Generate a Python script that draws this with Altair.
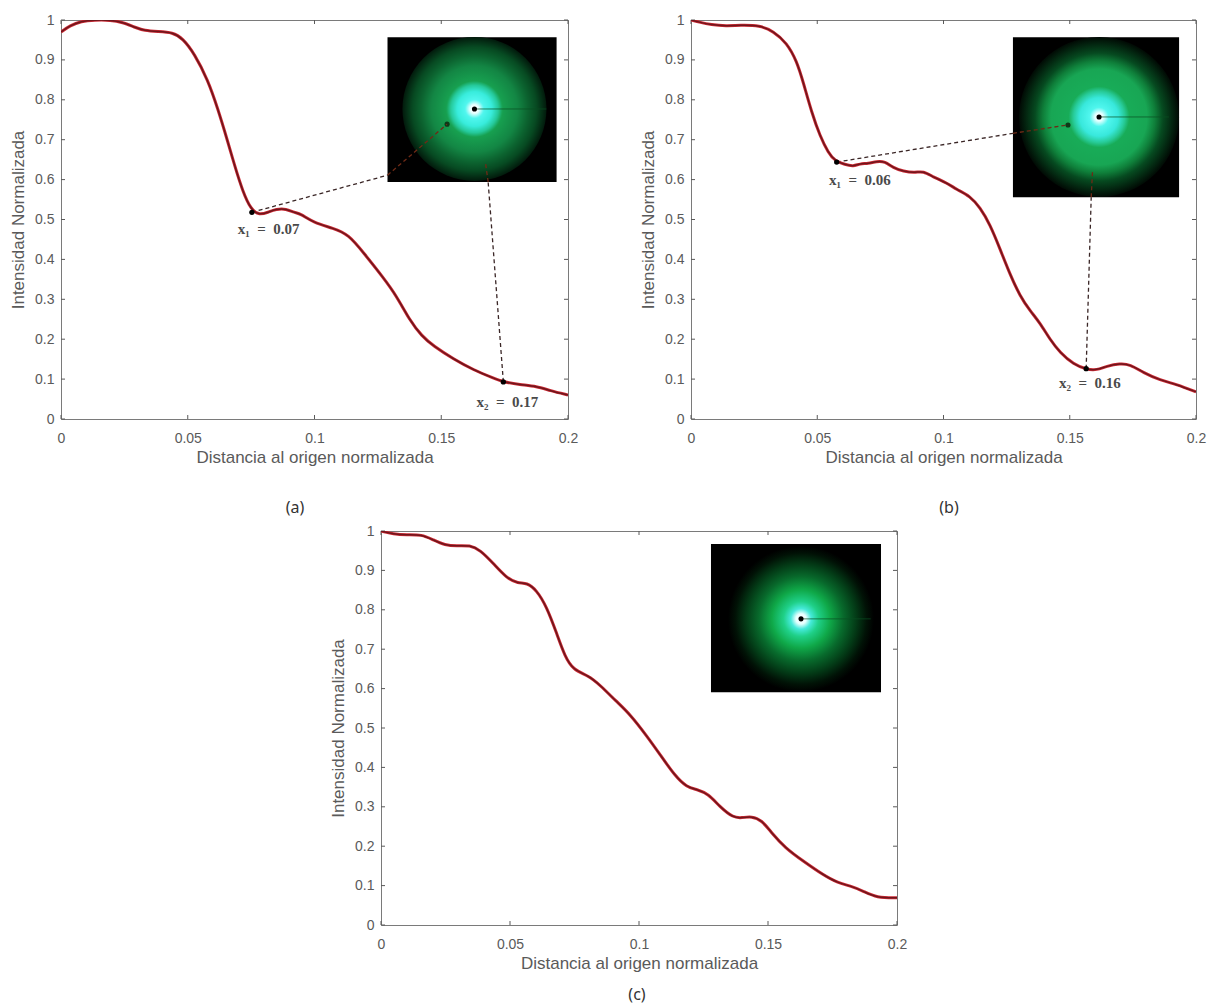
import altair as alt
import pandas as pd

# Curve values
xa = [0,.0036,.0079,.0132,.0197,.0243,.029,.033,.0382,.0441,.048,.0526,.0579,.0618,.0658,.0684,.0717,.075,.0783,.0816,.0849,.0888,.0921,.0944,.0996,.1075,.1134,.1193,.1272,.1324,.1377,.1423,.1469,.1549,.1627,.1706,.1745,.181,.1877,.1929,.2]
ya = [.97,.986,.997,1.0,1.0,.994,.982,.973,.971,.969,.954,.916,.85,.779,.695,.637,.57,.524,.511,.518,.526,.527,.517,.515,.492,.478,.4625,.417,.354,.308,.246,.208,.183,.15,.123,.1025,.093,.086,.082,.071,.06]
xb = [0,.003,.008,.014,.0194,.0273,.0326,.0379,.0419,.0445,.0478,.0511,.0544,.057,.061,.0643,.0669,.0702,.0735,.0768,.0801,.0841,.0887,.092,.096,.1013,.1052,.1105,.1145,.1184,.1224,.1263,.1303,.1343,.1382,.1422,.1462,.1515,.1567,.1607,.1646,.1699,.1739,.1792,.1858,.1923,.2]
yb = [1.0,.995,.988,.985,.987,.9865,.972,.943,.897,.843,.768,.709,.667,.647,.6375,.633,.64,.64,.646,.646,.629,.621,.617,.622,.606,.592,.575,.559,.53,.488,.426,.363,.308,.271,.241,.199,.166,.137,.124,.1225,.1325,.139,.137,.116,.0975,.0867,.068]
xc = [0,.0048,.0099,.0158,.0203,.0248,.0293,.0345,.0384,.0435,.0487,.0532,.0565,.0603,.0642,.0681,.0713,.0746,.0804,.0849,.0913,.0965,.103,.1081,.114,.1185,.1224,.1269,.1314,.1366,.1398,.1437,.1475,.1514,.1566,.1637,.1714,.1772,.1818,.1869,.1921,.2]
yc = [1.0,.992,.99,.9915,.977,.964,.962,.964,.952,.918,.88,.867,.869,.85,.808,.74,.681,.647,.633,.609,.567,.535,.48,.433,.378,.35,.344,.333,.2995,.272,.272,.276,.2665,.234,.196,.162,.127,.1065,.0998,.086,.069,.069]

x_ticks = [0, .05, .1, .15, .2]
y_ticks = [0, .1, .2, .3, .4, .5, .6, .7, .8, .9, 1]

X_TITLE = "Distancia al origen normalizada"
Y_TITLE = "Intensidad Normalizada"
AXC = "#5a5a5a"
FONT = "Liberation Sans"

stops_ring = [(0,"#ffffff"),(.06,"#eaffff"),(.13,"#50f6ee"),(.24,"#38ecdc"),(.33,"#25c99a"),(.39,"#17a050"),(.60,"#138644"),(.74,"#0c6430"),(.86,"#074a22"),(1,"#021a0c")]
stops_ring_b = [(0,"#ffffff"),(.05,"#e8ffff"),(.12,"#50f6ee"),(.24,"#38e8dc"),(.32,"#27cb98"),(.38,"#18ac58"),(.60,"#18a654"),(.70,"#0f7f3a"),(.80,"#064a20"),(1,"#010a04")]
stops_soft = [(0,"#ffffff"),(.07,"#e8ffff"),(.14,"#45eada"),(.24,"#1fd088"),(.40,"#0fa848"),(.58,"#086a2c"),(.76,"#033a16"),(.9,"#011206"),(1,"#000000")]


def grad(stops):
    return alt.RadialGradient(gradient="radial", x1=.5, y1=.5, x2=.5, y2=.5, r1=0, r2=.5,
                              stops=[alt.GradientStop(offset=o, color=c) for o, c in stops])


AX_X = alt.Axis(values=x_ticks, format="~g", ticks=False, domain=False, grid=False, labelPadding=12, labelFlush=False,
                labelColor=AXC, labelFont=FONT, labelFontSize=14, titleColor=AXC, titleFont=FONT,
                titleFontSize=17, titleFontWeight="normal", titlePadding=4)
AX_Y = alt.Axis(values=y_ticks, format="~g", ticks=False, domain=False, grid=False, labelPadding=7, labelFlush=False,
                labelColor=AXC, labelFont=FONT, labelFontSize=14, titleColor=AXC, titleFont=FONT,
                titleFontSize=17, titleFontWeight="normal", titlePadding=7)


def panel(xs, ys, w, h, inset, center, stops, ring_px, dot2=None, marks=(), labels=(), tag=None, tag_pos=(0, 0)):
    sx = alt.Scale(domain=[0, .2], nice=False, zero=False)
    sy = alt.Scale(domain=[0, 1], nice=False, zero=False)
    X = lambda f="x": alt.X(f"{f}:Q", scale=sx, axis=AX_X, title=X_TITLE)
    Y = lambda f="y": alt.Y(f"{f}:Q", scale=sy, axis=AX_Y, title=Y_TITLE)

    dx = pd.DataFrame({"x": x_ticks})
    dy = pd.DataFrame({"y": y_ticks})
    L = 4
    tick = alt.Chart(dx).mark_rule(color=AXC, strokeWidth=1)
    tick_y = alt.Chart(dy).mark_rule(color=AXC, strokeWidth=1)
    ticks = [
        tick.encode(x=X(), y=alt.value(h), y2=alt.value(h - L)),
        tick.encode(x=X(), y=alt.value(0), y2=alt.value(L)),
        tick_y.encode(y=Y(), x=alt.value(0), x2=alt.value(L)),
        tick_y.encode(y=Y(), x=alt.value(w), x2=alt.value(w - L)),
    ]

    x0, x1, y0, y1 = inset
    rect = alt.Chart(pd.DataFrame({"x": [x0], "x2": [x1], "y": [y0], "y2": [y1]})).mark_rect(color="#000000").encode(
        x=X(), x2="x2:Q", y=Y(), y2="y2:Q")
    cdf = pd.DataFrame({"x": [center[0]], "y": [center[1]]})
    glow = alt.Chart(cdf).mark_point(filled=True, shape="circle", opacity=1, fill=grad(stops), strokeWidth=0, size=(2 * ring_px) ** 2).encode(x=X(), y=Y())
    streak = alt.Chart(pd.DataFrame({"x": [center[0]], "x2": [x1 - .004], "y": [center[1]]})).mark_rule(color="#0a4f22", strokeWidth=1, opacity=.7).encode(x=X(), x2="x2:Q", y=Y())
    dot = alt.Chart(cdf).mark_circle(color="#000000", opacity=1, size=26).encode(x=X(), y=Y())

    layers = [rect, glow, streak, dot]
    if dot2 is not None:
        layers.append(alt.Chart(pd.DataFrame({"x": [dot2[0]], "y": [dot2[1]]})).mark_circle(color="#0c3a18", opacity=1, size=26).encode(x=X(), y=Y()))

    for (mx, my, ex, ey, ix, iy) in marks:
        outer = pd.DataFrame({"x": [mx, ex], "y": [my, ey]})
        inner = pd.DataFrame({"x": [ex, ix], "y": [ey, iy]})
        layers.append(alt.Chart(outer).mark_line(color="#3a2626", strokeWidth=1.3, strokeDash=[4, 3]).encode(x=X(), y=Y(), order="y:Q"))
        layers.append(alt.Chart(inner).mark_line(color="#6e2a16", strokeWidth=1.3, strokeDash=[4, 3]).encode(x=X(), y=Y(), order="y:Q"))

    df = pd.DataFrame({"x": xs, "y": ys})
    layers.append(alt.Chart(df).mark_line(color="#cc2a34", strokeWidth=3, interpolate="basis", clip=True).encode(x=X(), y=Y()))
    layers.append(alt.Chart(df).mark_line(color="#6e161c", strokeWidth=1.5, interpolate="basis", clip=True).encode(x=X(), y=Y()))

    for (mx, my, *_rest) in marks:
        layers.append(alt.Chart(pd.DataFrame({"x": [mx], "y": [my]})).mark_circle(color="#000000", opacity=1, size=28).encode(x=X(), y=Y()))

    if labels:
        ldf = pd.DataFrame(labels, columns=["x", "y", "t"])
        layers.append(alt.Chart(ldf).mark_text(font="Liberation Serif", fontSize=15, fontWeight="bold", color="#4a4a4a").encode(x=X(), y=Y(), text="t:N"))

    layers.append(alt.Chart(pd.DataFrame({"t": [tag]})).mark_text(font="Noto Sans", fontSize=16, color="#333333").encode(
        x=alt.value(tag_pos[0]), y=alt.value(tag_pos[1]), text="t:N"))

    return alt.layer(*ticks, *layers).properties(width=w, height=h)


a = panel(xa, ya, 507, 399,
          inset=(.1288, .1955, .957, .594), center=(.1631, .777), stops=stops_ring, ring_px=72,
          dot2=(.1523, .739),
          marks=[(.0753, .518, .1288, .611, .1523, .739), (.1745, .093, .1685, .594, .1675, .64)],
          labels=[(.0819, .476, "x₁\u2002=\u20020.07"), (.1761, .0426, "x₂\u2002=\u20020.17")],
          tag="(a)", tag_pos=(234, 488))
b = panel(xb, yb, 505, 399,
          inset=(.1275, .1933, .957, .556), center=(.1616, .757), stops=stops_ring_b, ring_px=80,
          dot2=(.1493, .737),
          marks=[(.0577, .644, .1275, .716, .1493, .737), (.1565, .126, .1585, .556, .159, .62)],
          labels=[(.0669, .599, "x₁\u2002=\u20020.06"), (.158, .09, "x₂\u2002=\u20020.16")],
          tag="(b)", tag_pos=(258, 488))
c = panel(xc, yc, 516, 394,
          inset=(.1279, .1938, .967, .591), center=(.1628, .777), stops=stops_soft, ring_px=73,
          tag="(c)", tag_pos=(256, 464))

spacer = alt.Chart(pd.DataFrame({"v": [0]})).mark_point(opacity=0).encode(x=alt.value(0), y=alt.value(0)).properties(
    width=320, height=10, view=alt.ViewBackground(stroke="transparent"))

top = alt.hconcat(a, b, spacing=123, bounds="flush")
bottom = alt.hconcat(spacer, c, spacing=0, bounds="flush")
chart = alt.vconcat(top, bottom, spacing=6).properties(
    padding={"left": 1, "top": 4, "right": 0, "bottom": 0}, background="white"
).configure_view(stroke="#7a7a7a", strokeWidth=1)

chart.save("out.html", embed_options={"renderer": "svg", "actions": False})
